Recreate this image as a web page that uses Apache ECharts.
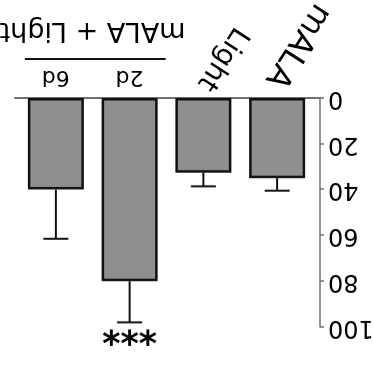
<!DOCTYPE html>
<html>
<head>
<meta charset="utf-8">
<script src="https://cdn.jsdelivr.net/npm/echarts@6/dist/echarts.min.js"></script>
<style>
  html, body { margin: 0; padding: 0; background: #fff; }
  #chart { width: 373px; height: 378px; transform: rotate(180deg); }
</style>
</head>
<body>
<div id="chart"></div>
<script>
// ---- data ----
const categories = ['mALA', 'Light', '2d', '6d'];
const means = [35, 32.6, 80, 40];
const errors = [5.5, 6, 18, 21.5];
const significance = ['', '', '***', ''];
const rotatedLabels = ['mALA', 'Light'];
const flatLabels = ['2d', '6d'];
const groupLabel = 'mALA + Light';
const groupMembers = ['2d', '6d'];
const yTicks = { min: 0, max: 100, interval: 20 };

const FONT = '"DejaVu Sans", Verdana, sans-serif';
const chart = echarts.init(document.getElementById('chart'), null, { renderer: 'canvas' });

const gridTop = 51, gridBottom = 98;
const option = {
  animation: false,
  backgroundColor: '#fff',
  grid: [
    { left: 53, right: 15, top: gridTop, bottom: gridBottom, outerBoundsMode: 'none', containLabel: false },
    { left: 59, right: 19, top: gridTop, bottom: gridBottom, outerBoundsMode: 'none', containLabel: false }
  ],
  xAxis: [
    { gridIndex: 0, type: 'value', min: 0, max: 1, position: 'bottom',
      axisLine: { show: true, lineStyle: { color: '#707070', width: 2 } },
      axisTick: { show: false }, axisLabel: { show: false }, splitLine: { show: false } },
    { gridIndex: 1, type: 'category', data: categories, position: 'bottom',
      axisLine: { show: false }, axisTick: { show: false }, splitLine: { show: false },
      axisLabel: { interval: 0, rotate: 57, margin: 10, fontSize: 28, fontFamily: FONT, color: '#000',
        formatter: v => rotatedLabels.includes(v) ? (v === 'mALA' ? '{big|' + v + '}' : v) : '',
        rich: { big: { fontSize: 32, fontFamily: FONT, color: '#000', padding: [12, 0, 0, 0] } } } },
    { gridIndex: 1, type: 'category', data: categories, position: 'bottom', offset: 0,
      axisLine: { show: false }, axisTick: { show: false }, splitLine: { show: false },
      axisLabel: { interval: 0, rotate: 0, margin: 10, fontSize: 22, fontFamily: FONT, color: '#000',
        formatter: v => flatLabels.includes(v) ? v : '' } }
  ],
  yAxis: [
    { gridIndex: 0, type: 'value', min: yTicks.min, max: yTicks.max, interval: yTicks.interval,
      axisLine: { show: true, lineStyle: { color: '#707070', width: 1.5 } },
      axisTick: { show: true, length: 4, lineStyle: { color: '#707070', width: 1.5 } },
      splitLine: { show: false },
      axisLabel: { margin: 8, fontSize: 24, fontFamily: FONT, color: '#000' } },
    { gridIndex: 1, type: 'value', min: yTicks.min, max: yTicks.max, show: false }
  ],
  series: [
    { type: 'bar', xAxisIndex: 1, yAxisIndex: 1, data: means, barWidth: 56,
      itemStyle: { color: '#8e8f90', borderColor: '#111', borderWidth: 2.5 } },
    { type: 'custom', xAxisIndex: 1, yAxisIndex: 1, z: 5,
      data: categories.map((c, i) => [i, means[i], errors[i]]),
      renderItem: function (params, api) {
        const i = api.value(0);
        const base = api.coord([i, api.value(1)]);
        const top = api.coord([i, api.value(1) + api.value(2)]);
        const children = [
          { type: 'line', shape: { x1: base[0], y1: base[1], x2: base[0], y2: top[1] },
            style: { stroke: '#111', lineWidth: 2 } },
          { type: 'line', shape: { x1: base[0] - 12.5, y1: top[1], x2: base[0] + 12.5, y2: top[1] },
            style: { stroke: '#111', lineWidth: 2 } }
        ];
        const s = significance[params.dataIndex];
        if (s) {
          children.push({ type: 'text', style: { text: s, x: base[0], y: top[1] - 7,
            align: 'center', verticalAlign: 'middle', font: 'bold 35px ' + FONT, fill: '#000' } });
        }
        return { type: 'group', children: children };
      } }
  ]
};
chart.setOption(option);

// group bracket under "2d" and "6d"
const xa = chart.convertToPixel({ xAxisIndex: 1 }, groupMembers[0]);
const xb = chart.convertToPixel({ xAxisIndex: 1 }, groupMembers[groupMembers.length - 1]);
const y0 = chart.convertToPixel({ yAxisIndex: 1 }, 0);
chart.setOption({
  graphic: [
    { type: 'line', shape: { x1: xa - 36, y1: y0 + 39, x2: xb + 31, y2: y0 + 39 },
      style: { stroke: '#111', lineWidth: 2 } },
    { type: 'text', style: { text: groupLabel, x: xa - 56, y: y0 + 54, align: 'left', verticalAlign: 'top',
      font: '27px ' + FONT, fill: '#000' } }
  ]
});
</script>
</body>
</html>
